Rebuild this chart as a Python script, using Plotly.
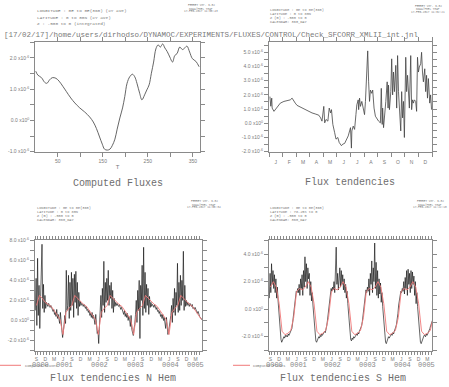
import plotly.graph_objects as go

# ---------------- data (values in units of 1e-6) ----------------
# Panel 1: Computed Fluxes vs T (day of year)
cf_t = [1, 6, 14, 21, 26, 32, 38, 46, 53, 62, 69, 79, 88, 99, 110, 121, 129, 136, 143, 149,
        154, 160, 166, 171, 177, 182, 188, 194, 199, 204, 210, 216, 221, 226, 232, 237, 243, 248, 253, 258,
        263, 268, 273, 278, 283, 288, 293, 299, 305, 310, 315, 321, 327, 332, 337, 343, 349, 357, 364]
cf_v = [1.58, 1.45, 1.37, 1.22, 1.19, 1.30, 1.37, 1.35, 1.26, 1.08, 0.93, 0.72, 0.56, 0.40, 0.27, 0.11, -0.05, -0.26, -0.53, -0.76,
        -0.92, -0.95, -0.92, -0.81, -0.60, -0.28, 0.08, 0.40, 0.77, 1.19, 1.40, 1.48, 1.40, 1.19, 0.87, 0.66, 0.82, 0.98, 1.14, 1.51,
        1.87, 2.29, 2.42, 2.35, 2.45, 2.32, 2.21, 2.03, 1.87, 2.08, 2.14, 2.35, 2.27, 2.32, 2.38, 2.19, 1.98, 1.89, 1.72]

# Panel 2: Flux tendencies over one 360-day year
ft_day = [2, 4, 6, 7, 11, 14, 18, 25, 33, 40, 47, 51, 55, 58, 62, 66, 73, 80, 88, 95,
          102, 110, 114, 117, 121, 123, 126, 130, 133, 136, 138, 141, 145, 148, 152, 155, 160, 163, 167, 170,
          175, 178, 180, 182, 183, 186, 189, 192, 194, 197, 198, 200, 202, 205, 208, 211, 213, 216, 218, 220,
          222, 224, 227, 229, 232, 235, 238, 242, 246, 248, 250, 251, 253, 255, 258, 261, 263, 264, 266, 269,
          271, 273, 275, 277, 280, 282, 284, 286, 288, 291, 293, 295, 297, 299, 302, 304, 306, 308, 310, 313,
          315, 317, 319, 321, 324, 326, 328, 330, 332, 335, 337, 339, 341, 344, 346, 348, 350, 352, 355, 357, 359]
ft_val = [1.88, 1.20, 1.77, 1.07, 0.84, 0.96, 1.19, 1.42, 1.54, 1.58, 1.65, 1.77, 1.54, 1.42, 1.26, 1.19, 1.12, 0.96, 0.80, 0.73,
          0.66, 0.57, 0.38, 0.15, 1.19, 0.03, 0.27, 0.15, 1.07, 0.73, 0.96, -0.08, -0.66, -1.12, -1.00, -1.35, -1.58, -1.47, -1.42, -1.24,
          -0.89, -0.54, -0.31, -1.75, -0.54, -0.20, -0.43, 0.61, 1.30, 1.65, 0.96, 1.77, 1.19, 1.54, 0.96, 0.61, 1.54, 3.27, 5.10, 2.92,
          1.54, 2.34, 2.11, 2.34, 1.07, 0.50, 0.33, 0.15, 0.03, 2.46, -0.08, 1.07, -0.31, 0.27, 1.54, 2.92, 1.07, 2.69, 0.96, 2.23,
          4.54, 2.00, 3.61, 2.23, 4.08, 1.07, 4.77, 2.23, 0.84, -0.54, 2.23, 0.38, 1.54, -1.00, 4.65, 2.23, 3.38, 1.77, 1.07, 4.77,
          0.96, 1.65, 1.42, 1.65, 1.54, 0.84, 4.65, 3.61, 3.96, 4.19, 5.00, 3.61, 2.92, 3.84, 2.23, 3.38, 1.77, 3.15, 1.42, 2.00, 0.96]

# Panels 3/4: time series from Sep 0000, 4 samples per month (months since Jan 0000)
t_start = 8.0
t_step = 0.25
nh_flux = [
    1.0, 4.2, -0.5, 6.2,   0.5, 3.5, -0.8, 2.8,   3.0, 7.6, 1.2, 3.6,   0.8, 2.5, 1.2, 1.8,
    1.6, 1.4, 1.7, 1.5,   1.3, 1.5, 1.2, 1.1,   0.9, 1.1, 0.6, 0.8,   0.4, 1.1, 0.2, 0.6,
    0.3, -0.3, 0.8, -0.6,   -1.0, -1.7, -1.2, -0.4,   0.5, -0.3, 5.0, 1.0,   1.5, 4.5, 0.2, 3.8,
    1.0, 4.8, 1.5, 4.2,   0.3, 4.6, 1.8, 4.9,   1.2, 3.8, 0.5, 2.8,   1.4, 1.9, 1.5, 1.7,
    1.6, 1.4, 1.6, 1.3,   1.2, 1.4, 1.0, 1.1,   0.8, 1.0, 0.5, 0.7,   0.3, 0.8, 0.2, 0.5,
    0.2, -0.4, 0.6, -0.6,   -1.3, -1.0, -2.3, -0.6,   1.0, 2.5, 0.3, 3.2,   1.5, 5.9, 0.8, 3.8,
    1.8, 4.2, 2.0, 5.0,   1.5, 3.5, 2.2, 3.8,   1.2, 3.0, 0.8, 2.2,   1.4, 1.8, 1.5, 1.7,
    1.5, 1.4, 1.6, 1.3,   1.1, 1.3, 1.0, 0.9,   0.6, 1.0, 0.4, 0.7,   0.3, 0.7, 0.0, 0.4,
    0.1, -0.6, 0.5, -0.9,   -1.2, -1.5, -0.8, -0.4,   0.6, 2.0, -0.2, 3.0,   1.0, 4.0, -1.8, 3.5,
    2.0, 5.5, 0.5, 7.3,   1.2, 4.8, 0.8, 3.6,   1.5, 3.2, 0.6, 2.4,   1.3, 1.8, 1.4, 1.6,
    1.5, 1.3, 1.6, 1.2,   1.1, 1.3, 0.9, 1.0,   0.7, 0.9, 0.4, 0.6,   0.2, 0.6, 0.0, 0.3,
    -0.2, -0.8, 0.3, -1.0,   -1.4, -1.1, -0.6, -0.2,   0.5, 1.5, -0.2, 2.2,   0.8, 3.2, 0.5, 2.8,
    1.5, 5.7, 0.8, 3.8,   1.0, 4.5, 1.5, 4.0,   2.0, 6.9, 1.0, 3.5,   1.4, 2.0, 1.5, 1.8,
    1.6, 1.4, 1.7, 1.5,   1.4, 1.6, 1.2, 1.3,   1.1, 1.3, 1.0, 0.9,   0.7, 0.9, 0.5, 0.4,
    0.3, 0.2, 0.1, 0.0,
]
sh_flux = [
    0.8, 2.6, 1.2, 3.3,   1.8, 2.8, 1.5, 2.5,   1.2, 2.2, 0.8, 1.6,   0.6, -0.3, -1.2, -1.9,
    -2.2, -2.4, -2.3, -2.1,   -2.0, -2.1, -1.9, -2.0,   -1.9, -2.0, -1.8, -1.9,   -1.8, -1.7, -1.6, -1.4,
    -1.0, -0.5, 0.2, 0.8,   1.0, 1.3, 1.2, 1.5,   1.2, 1.8, 1.0, 2.2,   1.5, 2.5, 1.0, 2.8,
    1.6, 3.8, 2.0, 3.3,   1.5, 3.0, 2.2, 2.6,   1.0, 2.0, 0.6, 1.2,   0.3, -0.5, -1.5, -2.1,
    -2.3, -2.4, -2.2, -2.1,   -2.0, -2.1, -1.9, -2.0,   -1.8, -1.9, -1.8, -1.7,   -1.6, -1.7, -1.5, -1.2,
    -0.8, -0.3, 0.3, 0.9,   1.2, 1.5, 1.3, 1.6,   1.4, 2.0, 1.2, 2.4,   4.5, 1.8, 2.6, 1.4,
    2.2, 3.0, 1.6, 2.8,   1.8, 2.5, 1.4, 2.2,   1.2, 1.8, 0.8, 1.3,   0.4, -0.4, -1.3, -2.0,
    -2.2, -2.3, -2.1, -2.2,   -2.0, -2.1, -1.9, -1.9,   -1.8, -1.9, -1.7, -1.8,   -1.6, -1.5, -1.4, -1.2,
    -0.9, -0.4, 0.2, 0.8,   1.1, 1.4, 1.2, 1.6,   1.3, 2.2, 1.0, 2.6,   1.8, 3.5, 1.2, 3.0,
    2.0, 4.8, 1.5, 3.4,   1.0, 2.8, 0.8, 2.2,   1.1, 1.9, 0.5, 1.2,   0.2, -0.6, -1.5, -2.2,
    -2.4, -2.5, -2.3, -2.2,   -2.0, -2.1, -1.9, -1.9,   -1.8, -1.9, -1.7, -1.8,   -1.6, -1.5, -1.3, -1.1,
    -0.8, -0.3, 0.3, 0.8,   1.0, 1.3, 1.2, 1.5,   1.3, 2.0, 1.1, 2.3,   1.5, 2.8, 1.0, 2.9,
    1.8, 2.6, 1.2, 2.8,   1.5, 2.7, 1.8, 2.4,   1.0, 2.0, 0.4, 1.2,   0.2, -0.6, -1.6, -2.3,
    -2.4, -2.5, -2.3, -2.1,   -2.0, -1.9, -1.9, -2.0,   -1.8, -1.9, -1.8, -1.7,   -1.5, -1.4, -1.2, -1.0,
    -0.8, -0.7, -0.6, -0.5,
]
# Computed fluxes, monthly climatology Jan..Dec (red curves)
nh_clim = [1.6, 1.4, 1.0, 0.5, 0.1, -1.4, 0.8, 1.2, 1.5, 2.5, 2.2, 1.8]
sh_clim = [-1.6, -1.85, -1.75, -1.55, -0.6, 1.3, 1.5, 1.4, 1.6, 2.0, 1.6, 0.4]

month_letters = ["J", "F", "M", "A", "M", "J", "J", "A", "S", "O", "N", "D"]
year_labels = ["0000", "0001", "0002", "0003", "0004", "0005"]

# ---------------- derived ----------------
W, H = 449, 387
GREY = "#7a7a7a"
LINE = "#8a8a8a"


def px(x):
    return x / W


def py(y):
    return 1 - y / H


def sci(v):
    if abs(v) < 1e-9:
        return "0.0 x10<sup>0</sup>"
    return f"{v:.1f} x10<sup>-6</sup>"


nh_t = [t_start + (i + 0.5) * t_step for i in range(len(nh_flux))]
sh_t = [t_start + (i + 0.5) * t_step for i in range(len(sh_flux))]
red_t = [m + 0.5 for m in range(8, 65)]
nh_red = [nh_clim[int(m) % 12] for m in red_t]
sh_red = [sh_clim[int(m) % 12] for m in red_t]

fig = go.Figure()
fig.add_trace(go.Scatter(x=cf_t, y=cf_v, mode="lines", line=dict(color="#555", width=0.9, shape="spline"),
                         xaxis="x", yaxis="y"))
fig.add_trace(go.Scatter(x=ft_day, y=ft_val, mode="lines", line=dict(color="#444", width=0.8),
                         xaxis="x2", yaxis="y2"))
fig.add_trace(go.Scatter(x=nh_t, y=nh_flux, mode="lines", line=dict(color="#111", width=0.65),
                         xaxis="x3", yaxis="y3"))
fig.add_trace(go.Scatter(x=red_t, y=nh_red, mode="lines", line=dict(color="#f07878", width=0.9),
                         xaxis="x3", yaxis="y3"))
fig.add_trace(go.Scatter(x=sh_t, y=sh_flux, mode="lines", line=dict(color="#111", width=0.65),
                         xaxis="x4", yaxis="y4"))
fig.add_trace(go.Scatter(x=red_t, y=sh_red, mode="lines", line=dict(color="#f07878", width=0.9),
                         xaxis="x4", yaxis="y4"))

tickfont = dict(family="Liberation Sans", size=5, color=GREY)
common = dict(showline=True, linecolor=LINE, linewidth=1, mirror="ticks", ticks="outside", ticklen=4,
              tickcolor=LINE, tickwidth=1, showgrid=False, zeroline=False, tickfont=tickfont, fixedrange=True)


def yvals(lo, hi, step, labstep):
    vals, texts = [], []
    n = int(round((hi - lo) / step))
    for k in range(n + 1):
        v = round(lo + k * step, 3)
        vals.append(v)
        texts.append(sci(v) if abs(v / labstep - round(v / labstep)) < 1e-6 else "")
    return vals, texts


def time_axis(rng, dom):
    tv, tt = [], []
    m = 8.5
    while m < rng[1]:
        tv.append(m)
        tt.append(month_letters[int(m) % 12])
        m += 3
    return dict(common, domain=dom, range=rng, tickmode="array", tickvals=tv, ticktext=tt, ticks="",
                ticklabelstandoff=3,
                minor=dict(tickmode="array", tickvals=list(range(8, 66)), ticks="outside", ticklen=3,
                           tickcolor=LINE, tickwidth=1))


y1v, y1t = yvals(-1.0, 2.5, 0.5, 1.0)
y2v, y2t = yvals(-2.0, 5.5, 0.5, 1.0)
y3v, y3t = yvals(-3.0, 8.0, 1.0, 2.0)
y4v, y4t = yvals(-3.0, 5.0, 1.0, 2.0)

dom_top = [py(151), py(40)]
dom_bot = [py(353), py(241)]

layout = dict(
    width=W, height=H, margin=dict(l=0, r=0, t=0, b=0), paper_bgcolor="white", plot_bgcolor="white",
    showlegend=False,
    xaxis=dict(common, domain=[px(35.2), px(200)], range=[0, 366], anchor="y", tickmode="array",
               tickvals=[50, 100, 150, 200, 250, 300, 350], ticktext=["50", "", "150", "", "250", "", "350"],
               title=dict(text="T", font=dict(family="Liberation Sans", size=6, color=GREY), standoff=2)),
    yaxis=dict(common, domain=dom_top, range=[-1.0, 2.5], anchor="x", tickmode="array", tickvals=y1v, ticktext=y1t),
    xaxis2=dict(common, domain=[px(269), px(432)], range=[0, 360], anchor="y2", tickmode="array",
                tickvals=[15 + 30 * k for k in range(12)], ticktext=month_letters, ticks="", ticklabelstandoff=5,
                minor=dict(tickmode="array", tickvals=[30 * k for k in range(13)], ticks="outside", ticklen=4,
                           tickcolor=LINE, tickwidth=1)),
    yaxis2=dict(common, domain=dom_top, range=[-2.0, 5.7], anchor="x2", tickmode="array", tickvals=y2v, ticktext=y2t),
    xaxis3=dict(time_axis([8.0, 64.7], [px(35), px(202)]), anchor="y3"),
    yaxis3=dict(common, domain=dom_bot, range=[-3.0, 8.0], anchor="x3", tickmode="array", tickvals=y3v, ticktext=y3t),
    xaxis4=dict(time_axis([8.0, 64.1], [px(269), px(432)]), anchor="y4"),
    yaxis4=dict(common, domain=dom_bot, range=[-3.0, 5.0], anchor="x4", tickmode="array", tickvals=y4v, ticktext=y4t),
)
fig.update_layout(**layout)

ann = []


def text(x, y, s, size, xanchor="left", family="Liberation Mono", color=GREY):
    ann.append(dict(x=px(x), y=py(y), xref="paper", yref="paper", text=s, showarrow=False,
                    xanchor=xanchor, yanchor="middle", font=dict(family=family, size=size, color=color)))


# main title
text(2, 33, "[17/02/17]/home/users/dirhodso/DYNAMOC/EXPERIMENTS/FLUXES/CONTROL/Check_SFCORR_XMLII_int.jnl", 7.5)

# headers
for i, s in enumerate(["LONGITUDE : 0E to 0E(360) (XY ave)", "LATITUDE : 0 to 80N (XY ave)", "Z : -500 to 0 (integrated)"]):
    text(35, 7.3 + 7 * i, s, 4.4)
for i, s in enumerate(["LONGITUDE : 0E to 0E(360)", "LATITUDE : 0 to 80N", "Z (m) : -500 to 0", "CALENDAR: 360_DAY"]):
    text(268, 6.7 + 4.2 * i, s, 3.6)
for i, s in enumerate(["LONGITUDE : 0E to 0E(360)", "LATITUDE : 0 to 80N", "Z (m) : -500 to 0", "CALENDAR: 360_DAY"]):
    text(35, 208 + 4.3 * i, s, 3.6)
for i, s in enumerate(["LONGITUDE : 0E to 0E(360)", "LATITUDE : 78.25S to 0", "Z (m) : -500 to 0", "CALENDAR: 360_DAY"]):
    text(268, 208 + 4.3 * i, s, 3.6)

# ferret stamps
for (cx, cy, stamp) in [(201, 2.7, "17-FEB-2017 11:00:43"), (428, 3.3, "17-FEB-2017 11:02:21"),
                        (204, 201.7, "17-FEB-2017 11:00:34"), (430, 201.7, "17-FEB-2017 11:22:18")]:
    for i, s in enumerate(["FERRET Ver. 6.82", "NOAA/PMEL TMAP", stamp]):
        text(cx, cy + 3.2 * i, s, 2.8, xanchor="center")

# panel titles
TITLE = "#6e6e6e"
text(117.5, 183, "Computed Fluxes", 10, xanchor="center", color=TITLE)
text(350, 182, "Flux tendencies", 10, xanchor="center", color=TITLE)
text(113, 381, "Flux tendencies N Hem", 10, xanchor="center", color=TITLE)
text(343, 381, "Flux tendencies S Hem", 10, xanchor="center", color=TITLE)

# year labels on time axes
for xa, end in [("x3", 64.7), ("x4", 64.1)]:
    for k, lab in enumerate(year_labels):
        lo = max(8.0, 12 * k)
        hi = min(end, 12 * (k + 1))
        ann.append(dict(x=(lo + hi) / 2, y=py(368), xref=xa, yref="paper", text=lab, showarrow=False,
                        xanchor="center", yanchor="middle", font=dict(family="Liberation Mono", size=7, color="#888")))

# legend entries
text(23, 369, "Computed Fluxes", 3.6)
text(251, 369, "Computed Fluxes", 3.6)
fig.update_layout(annotations=ann, shapes=[
    dict(type="line", xref="paper", yref="paper", x0=px(0), x1=px(21), y0=py(368), y1=py(368),
         line=dict(color="#f07878", width=1)),
    dict(type="line", xref="paper", yref="paper", x0=px(233), x1=px(250), y0=py(368), y1=py(368),
         line=dict(color="#f07878", width=1)),
])

fig.write_html("out.html", config={"displayModeBar": False},
               post_script="document.body.style.margin='0';document.body.style.overflow='hidden';")
